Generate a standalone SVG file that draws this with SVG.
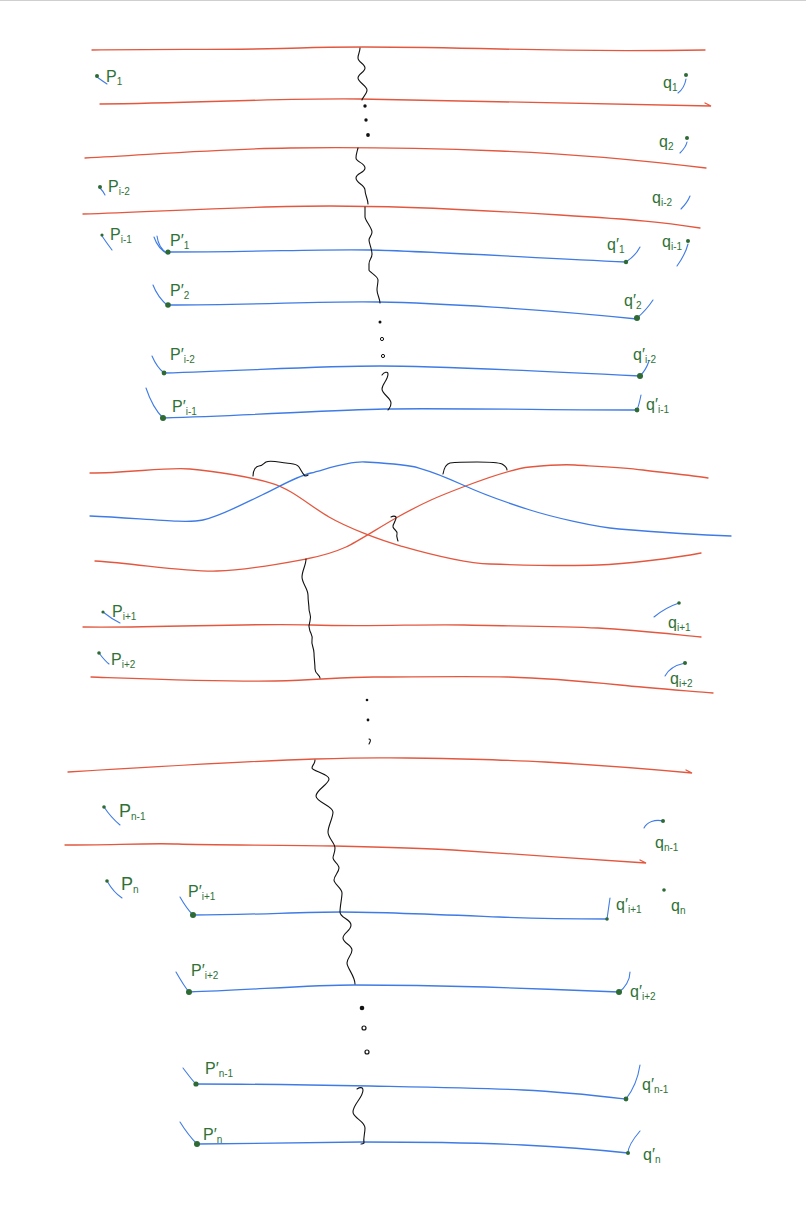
<svg xmlns="http://www.w3.org/2000/svg" width="806" height="1210" viewBox="0 0 806 1210">
<style>
.r{fill:none;stroke:#e4573f;stroke-width:1.3;stroke-linecap:round}
.b{fill:none;stroke:#3f7be6;stroke-width:1.3;stroke-linecap:round}
.t{fill:none;stroke:#3f7be6;stroke-width:1.1;stroke-linecap:round}
.k{fill:none;stroke:#111;stroke-width:1.1;stroke-linecap:round;stroke-linejoin:round}
.d{fill:#2d6a34}
.kd{fill:#111}
text{font-family:"Liberation Sans","DejaVu Sans",sans-serif;font-size:16px;fill:#2f7236}
.s{font-size:10px}
</style>
<rect width="806" height="1210" fill="#fff"/>
<line x1="0" y1="0.5" x2="806" y2="0.5" stroke="#cfcfcf"/>

<g id="red-lines">
<path class="r" d="M92 50 C180 49 250 50 300 48 S420 47 500 49 S640 51 705 50"/>
<path class="r" d="M100 104 C200 103 280 98 360 99 S560 103 711 106 l-6 -3"/>
<path class="r" d="M85 158 C160 154 220 149 290 148 S420 148 500 151 S640 160 706 168"/>
<path class="r" d="M83 214 C170 211 250 206 330 206 S480 210 560 215 S660 222 700 228"/>
<path class="r" d="M90 473 C130 473 165 467 190 469 S250 477 271 483 S310 506 329 517 S380 540 401 546 S460 563 490 564 S570 566 598 565 S675 558 701 553"/>
<path class="r" d="M95 561 C140 564 185 572 217 571 S285 563 306 559 S335 552 346 547 S380 527 396 518 S420 505 431 500 S450 492 463 487 S510 469 530 467 S560 464 575 465 S620 467 643 470 S690 475 708 478"/>
<path class="r" d="M83 627 C160 628 250 623 311 625 S420 624 464 625 S560 626 598 628 S670 634 701 637"/>
<path class="r" d="M91 677 C150 679 230 682 275 681 S340 677 374 677 S470 676 508 677 S590 682 620 685 S690 691 713 693"/>
<path class="r" d="M68 772 C150 767 250 761 315 759 S380 758 407 758 S510 760 545 762 S650 769 692 773 l-6 -3"/>
<path class="r" d="M65 845 C110 845 150 843 178 844 S290 845 334 846 S420 848 453 850 S600 860 646 863 l-6 -3"/>
</g>

<g id="blue-lines">
<path class="b" d="M168 252 C260 252 320 249 370 250 S520 257 626 262"/>
<path class="b" d="M168 305 C260 305 320 301 378 302 S540 309 637 319"/>
<path class="b" d="M164 373 C260 370 320 366 380 366 S560 372 640 376"/>
<path class="b" d="M163 418 C260 415 330 410 385 409 S560 410 637 410"/>
<path class="b" d="M90 516 C140 518 185 524 203 520 S245 503 262 495 S295 477 311 473 S348 461 365 462 S405 464 419 468 S450 479 463 485 S508 503 530 510 S595 527 619 529 S700 535 731 536"/>
<path class="b" d="M193 915 C250 915 300 912 341 912 S450 915 499 917 S580 919 607 919"/>
<path class="b" d="M189 992 C250 990 310 985 354 985 S450 986 485 987 S590 991 619 992"/>
<path class="b" d="M196 1084 C260 1084 320 1085 370 1086 S480 1088 523 1090 S600 1096 626 1099"/>
<path class="b" d="M197 1144 C260 1143 320 1142 362 1142 S480 1143 523 1145 S600 1150 628 1153"/>
</g>

<g id="squiggles">
<path class="k" d="M360 48 C360 52 358 54 358 58 S365 64 365 68 S358 74 358 78 S367 86 367 90 S362 98 362 100"/>
<path class="k" d="M358 148 C357 152 356 154 356 158 S365 163 365 168 S356 173 356 178 S365 185 365 190 S368 199 368 204"/>
<path class="k" d="M365 207 C365 210 365 214 365 217 S372 228 372 232 S369 237 369 240 S372 249 372 254 S369 259 369 264 S369 268 369 270 S378 276 378 280 S377 286 377 290 S380 299 380 303"/>
<path class="k" d="M382 375 C384 372 388 371 388 374 C388 380 382 384 382 389 S391 398 391 403 S389 408 388 410"/>
<path class="k" d="M253 476 c0 -6 3 -10 6 -10 c4 0 5 -3 7 -4 c4 -2 12 0 20 1 c6 1 10 0 13 4 c2 3 3 6 6 9 c1 0 2 0 3 -1"/>
<path class="k" d="M443 474 c1 -6 3 -10 7 -11 c8 -1 18 -1 27 -1 c9 0 20 0 25 2 c3 2 5 3 5 6"/>
<path class="k" d="M391 517 c2 -1 4 -1 5 0 c1 4 -4 7 -3 10 c1 3 5 4 4 7 c-1 2 0 4 1 7"/>
<path class="k" d="M306 559 C306 565 302 571 302 577 S308 589 308 595 S309 605 309 609 S312 616 310 621 S309 628 310 631 S313 636 312 640 S314 648 314 653 S315 664 315 669 S320 675 320 678"/>
<path class="k" d="M315 760 C315 764 312 765 312 768 S329 774 329 779 S316 790 316 796 S333 806 333 812 S328 826 328 832 S335 843 335 848 S333 855 333 858 S339 864 339 868 S334 876 334 880 S342 888 342 893 S340 906 340 912 S351 919 351 925 S343 933 343 938 S352 945 352 950 S347 958 347 963 S355 976 355 984"/>
<path class="k" d="M357 1089 c3 -2 6 -2 6 1 c0 8 -10 14 -10 22 c0 6 12 9 12 16 c0 6 -2 10 -1 15 c-1 1 -2 1 -3 1"/>
</g>

<g id="ellipsis-dots">
<circle class="kd" cx="365" cy="106" r="1.7"/>
<circle class="kd" cx="366" cy="120" r="1.7"/>
<circle class="kd" cx="368" cy="135" r="1.9"/>
<circle class="kd" cx="380" cy="322" r="1.5"/>
<circle cx="382" cy="339" r="1.6" fill="none" stroke="#111" stroke-width="1"/>
<circle cx="383" cy="356" r="1.6" fill="none" stroke="#111" stroke-width="1"/>
<circle class="kd" cx="367" cy="700" r="1.3"/>
<circle class="kd" cx="368" cy="720" r="1.4"/>
<path class="k" d="M369 739 c1 0 2 1 1 3 l-1 2"/>
<circle class="kd" cx="362" cy="1008" r="2.3"/>
<circle cx="364" cy="1028" r="2" fill="none" stroke="#111" stroke-width="1.2"/>
<circle cx="367" cy="1052" r="2" fill="none" stroke="#111" stroke-width="1.2"/>
</g>

<g id="p1"><path class="t" d="M97 77 Q101 80 107 84"/><circle class="d" cx="97" cy="76" r="2"/><text x="106" y="82">P<tspan class="s" dy="3">1</tspan></text></g>
<g id="q1"><path class="t" d="M686 79 C685 85 682 90 678 93"/><circle class="d" cx="686" cy="75" r="2"/><text x="663" y="88">q<tspan class="s" dy="3">1</tspan></text></g>
<g id="q2"><path class="t" d="M687 142 C686 147 683 150 680 153"/><circle class="d" cx="687" cy="138" r="2"/><text x="659" y="147">q<tspan class="s" dy="3">2</tspan></text></g>
<g id="p_i-2"><path class="t" d="M100 188 Q103 191 105 195"/><circle class="d" cx="100" cy="187" r="2"/><text x="108" y="192">P<tspan class="s" dy="3">i-2</tspan></text></g>
<g id="q_i-2"><path class="t" d="M690 196 C688 201 685 205 681 209"/><text x="652" y="203">q<tspan class="s" dy="3">i-2</tspan></text></g>
<g id="p_i-1"><path class="t" d="M102 236 Q106 242 112 250"/><circle class="d" cx="102" cy="235" r="1.6"/><text x="110" y="240">P<tspan class="s" dy="3">i-1</tspan></text></g>
<g id="q_i-1"><path class="t" d="M688 244 C686 252 682 259 677 266"/><circle class="d" cx="688" cy="241" r="2"/><text x="662" y="247">q<tspan class="s" dy="3">i-1</tspan></text></g>

<g id="p1p"><path class="t" d="M154 237 C156 243 160 250 168 254 M157 236 C158 244 162 250 167 253"/><circle class="d" cx="168" cy="252" r="2.6"/><text x="170" y="246">P′<tspan class="s" dy="3">1</tspan></text></g>
<g id="q1p"><path class="t" d="M626 262 C632 258 637 253 640 247"/><circle class="d" cx="626" cy="262" r="2.2"/><text x="607" y="250">q′<tspan class="s" dy="3">1</tspan></text></g>
<g id="p2p"><path class="t" d="M153 285 C156 293 161 300 168 306"/><circle class="d" cx="168" cy="305" r="2.8"/><text x="170" y="296">P′<tspan class="s" dy="3">2</tspan></text></g>
<g id="q2p"><path class="t" d="M637 318 C643 313 649 306 653 300"/><circle class="d" cx="637" cy="318" r="3"/><text x="624" y="306">q′<tspan class="s" dy="3">2</tspan></text></g>
<g id="pi-2p"><path class="t" d="M152 356 C155 363 159 369 164 373"/><circle class="d" cx="164" cy="373" r="2.4"/><text x="170" y="360">P′<tspan class="s" dy="3">i-2</tspan></text></g>
<g id="qi-2p"><path class="t" d="M640 376 C644 372 647 367 649 361"/><circle class="d" cx="640" cy="376" r="3"/><text x="633" y="360">q′<tspan class="s" dy="3">i-2</tspan></text></g>
<g id="pi-1p"><path class="t" d="M146 388 C150 400 155 410 163 418"/><circle class="d" cx="163" cy="418" r="3"/><text x="172" y="412">P′<tspan class="s" dy="3">i-1</tspan></text></g>
<g id="qi-1p"><path class="t" d="M637 410 C639 405 640 400 641 395"/><circle class="d" cx="637" cy="410" r="2.4"/><text x="646" y="410">q′<tspan class="s" dy="3">i-1</tspan></text></g>

<g id="p_i+1"><path class="t" d="M103 612 C108 616 114 620 120 623"/><circle class="d" cx="103" cy="612" r="1.6"/><text x="112" y="617">P<tspan class="s" dy="3">i+1</tspan></text></g>
<g id="q_i+1"><path class="t" d="M654 617 C660 612 670 606 679 603"/><circle class="d" cx="679" cy="603" r="1.8"/><text x="668" y="628">q<tspan class="s" dy="3">i+1</tspan></text></g>
<g id="p_i+2"><path class="t" d="M99 653 C102 657 105 661 109 664"/><circle class="d" cx="99" cy="653" r="1.8"/><text x="111" y="665">P<tspan class="s" dy="3">i+2</tspan></text></g>
<g id="q_i+2"><path class="t" d="M665 676 C668 670 676 665 685 663"/><circle class="d" cx="685" cy="663" r="2"/><text x="670" y="684">q<tspan class="s" dy="3">i+2</tspan></text></g>

<g id="p_n-1"><path class="t" d="M104 807 C108 813 114 820 120 825"/><circle class="d" cx="104" cy="807" r="1.8"/><text x="119" y="817" style="font-size:18px">P<tspan class="s" dy="3">n-1</tspan></text></g>
<g id="q_n-1"><path class="t" d="M644 828 C647 822 655 819 663 821"/><circle class="d" cx="663" cy="821" r="2"/><text x="655" y="848">q<tspan class="s" dy="3">n-1</tspan></text></g>
<g id="p_n"><path class="t" d="M107 881 C111 888 116 894 122 898"/><circle class="d" cx="107" cy="881" r="1.8"/><text x="121" y="890" style="font-size:18px">P<tspan class="s" dy="3">n</tspan></text></g>
<g id="q_n"><circle class="d" cx="664" cy="890" r="1.8"/><text x="671" y="911">q<tspan class="s" dy="3">n</tspan></text></g>
<g id="pi+1p"><path class="t" d="M180 897 C184 904 188 910 193 915"/><circle class="d" cx="193" cy="915" r="3"/><text x="188" y="897">P′<tspan class="s" dy="3">i+1</tspan></text></g>
<g id="qi+1p"><path class="t" d="M607 919 C608 912 609 905 610 898"/><circle class="d" cx="607" cy="919" r="1.8"/><text x="616" y="910">q′<tspan class="s" dy="3">i+1</tspan></text></g>
<g id="pi+2p"><path class="t" d="M176 972 C180 979 184 986 189 992"/><circle class="d" cx="189" cy="992" r="3"/><text x="191" y="976">P′<tspan class="s" dy="3">i+2</tspan></text></g>
<g id="qi+2p"><path class="t" d="M619 992 C625 988 630 980 630 972"/><circle class="d" cx="619" cy="992" r="3"/><text x="630" y="997">q′<tspan class="s" dy="3">i+2</tspan></text></g>
<g id="pn-1p"><path class="t" d="M183 1068 C187 1073 191 1079 196 1084"/><circle class="d" cx="196" cy="1084" r="2.6"/><text x="205" y="1074">P′<tspan class="s" dy="3">n-1</tspan></text></g>
<g id="qn-1p"><path class="t" d="M626 1099 C633 1090 638 1078 640 1065"/><circle class="d" cx="626" cy="1099" r="2.4"/><text x="642" y="1090">q′<tspan class="s" dy="3">n-1</tspan></text></g>
<g id="pnp"><path class="t" d="M180 1122 C185 1130 191 1138 197 1144"/><circle class="d" cx="197" cy="1144" r="3"/><text x="203" y="1140">P′<tspan class="s" dy="3">n</tspan></text></g>
<g id="qnp"><path class="t" d="M628 1153 C628 1146 634 1138 640 1131"/><circle class="d" cx="628" cy="1153" r="2"/><text x="643" y="1160">q′<tspan class="s" dy="3">n</tspan></text></g>
</svg>
